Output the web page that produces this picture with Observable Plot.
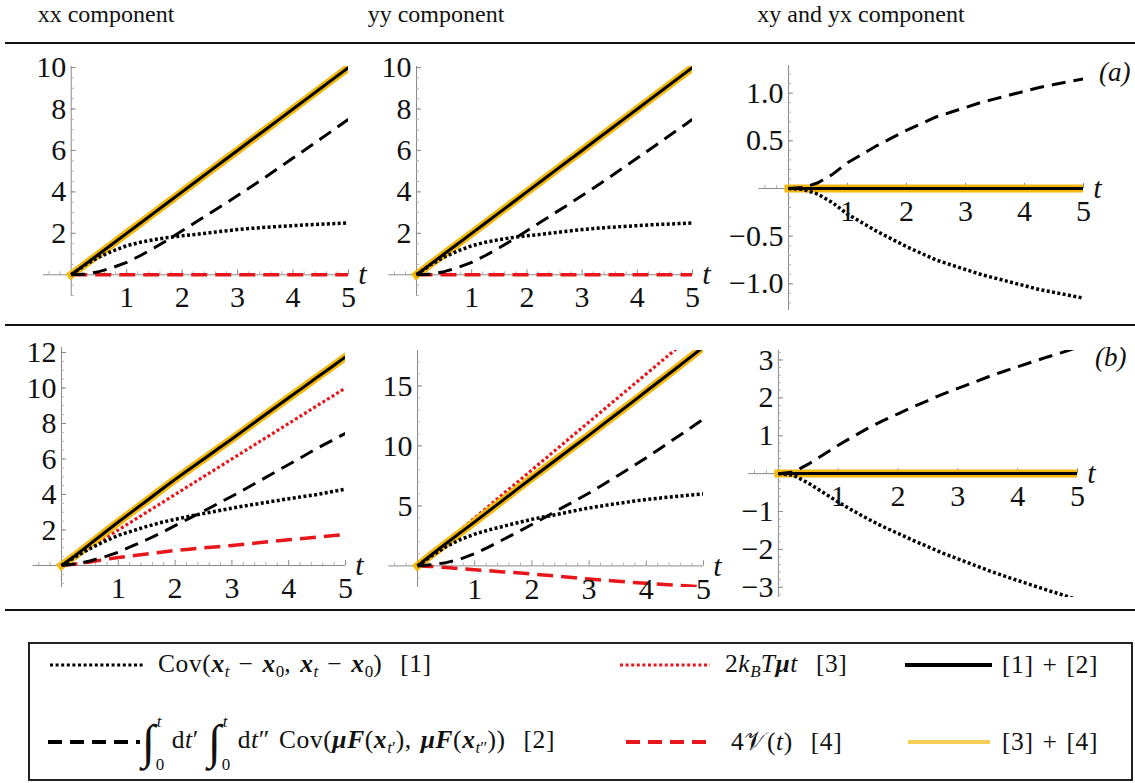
<!DOCTYPE html>
<html><head><meta charset="utf-8">
<script src="https://cdn.jsdelivr.net/npm/d3@7"></script>
<script src="https://cdn.jsdelivr.net/npm/@observablehq/plot@0.6"></script>
<style>
body{margin:0;background:#fff;}
#fig{position:relative;width:1135px;height:783px;overflow:hidden;font-family:"Liberation Serif","Times New Roman",serif;color:#111;}
.hdr{position:absolute;top:1px;font-size:24px;transform:translateX(-50%);white-space:nowrap;}
.rule{position:absolute;left:5px;width:1130px;height:2px;background:#111;}
.panel{position:absolute;}
.tag{position:absolute;font-style:italic;font-size:27px;transform:translateY(-50%);}
#legend{position:absolute;left:28px;top:642px;width:1101px;height:135px;border:2px solid #222;}
.lt{position:absolute;font-size:25.5px;letter-spacing:0.6px;word-spacing:2px;white-space:nowrap;transform:translateY(-50%);line-height:1;}
.lt sub{font-size:17px;vertical-align:-5px;letter-spacing:0;}
svg.sample{position:absolute;overflow:visible;}
.isg{display:inline-block;font-size:48px;line-height:1;vertical-align:middle;font-style:italic;}
.lim{display:inline-block;position:relative;width:12px;height:46px;vertical-align:middle;margin-right:4px;}
.lim .up{position:absolute;font-size:17px;left:1px;top:-6px;font-style:italic;}
.lim .lo{position:absolute;font-size:17px;left:0px;bottom:-8px;}
</style></head><body><div id="fig"></div>
<script>
// ---------- data ----------
const t = [0,0.25,0.5,0.75,1,1.25,1.5,1.75,2,2.25,2.5,2.75,3,3.25,3.5,3.75,4,4.25,4.5,4.75,5];

// row (a), xx component
const aXX_cov   = [0,0.48,0.85,1.15,1.4,1.57,1.7,1.8,1.88,1.95,2.03,2.11,2.18,2.24,2.29,2.33,2.37,2.41,2.44,2.47,2.5];
const aXX_force = [0,0.02,0.15,0.35,0.6,0.93,1.3,1.7,2.12,2.55,2.97,3.39,3.82,4.26,4.71,5.17,5.63,6.09,6.56,7.03,7.5];
const aXX_sum12 = [0,0.5,1,1.5,2,2.5,3,3.5,4,4.5,5,5.5,6,6.5,7,7.5,8,8.5,9,9.5,10];
const aXX_kT    = [0,0.5,1,1.5,2,2.5,3,3.5,4,4.5,5,5.5,6,6.5,7,7.5,8,8.5,9,9.5,10];
const aXX_V     = [0,0,0,0,0,0,0,0,0,0,0,0,0,0,0,0,0,0,0,0,0];
const aXX_sum34 = [0,0.5,1,1.5,2,2.5,3,3.5,4,4.5,5,5.5,6,6.5,7,7.5,8,8.5,9,9.5,10];

// row (a), yy component
const aYY_cov   = [0,0.48,0.85,1.15,1.4,1.57,1.7,1.8,1.88,1.95,2.03,2.11,2.18,2.24,2.29,2.33,2.37,2.41,2.44,2.47,2.5];
const aYY_force = [0,0.02,0.15,0.35,0.6,0.93,1.3,1.7,2.12,2.55,2.97,3.39,3.82,4.26,4.71,5.17,5.63,6.09,6.56,7.03,7.5];
const aYY_sum12 = [0,0.5,1,1.5,2,2.5,3,3.5,4,4.5,5,5.5,6,6.5,7,7.5,8,8.5,9,9.5,10];
const aYY_kT    = [0,0.5,1,1.5,2,2.5,3,3.5,4,4.5,5,5.5,6,6.5,7,7.5,8,8.5,9,9.5,10];
const aYY_V     = [0,0,0,0,0,0,0,0,0,0,0,0,0,0,0,0,0,0,0,0,0];
const aYY_sum34 = [0,0.5,1,1.5,2,2.5,3,3.5,4,4.5,5,5.5,6,6.5,7,7.5,8,8.5,9,9.5,10];

// row (a), xy and yx component
const aXY_cov   = [0,-0.01,-0.06,-0.15,-0.27,-0.36,-0.45,-0.53,-0.61,-0.68,-0.75,-0.8,-0.85,-0.9,-0.94,-0.98,-1.02,-1.06,-1.09,-1.12,-1.15];
const aXY_force = [0,0.01,0.06,0.15,0.27,0.36,0.45,0.53,0.61,0.68,0.75,0.8,0.85,0.9,0.94,0.98,1.02,1.06,1.09,1.12,1.15];
const aXY_sum12 = [0,0,0,0,0,0,0,0,0,0,0,0,0,0,0,0,0,0,0,0,0];
const aXY_kT    = [0,0,0,0,0,0,0,0,0,0,0,0,0,0,0,0,0,0,0,0,0];
const aXY_V     = [0,0,0,0,0,0,0,0,0,0,0,0,0,0,0,0,0,0,0,0,0];
const aXY_sum34 = [0,0,0,0,0,0,0,0,0,0,0,0,0,0,0,0,0,0,0,0,0];

// row (b), xx component
const bXX_cov   = [0,0.5,0.95,1.35,1.7,1.95,2.2,2.42,2.6,2.77,2.93,3.08,3.23,3.37,3.5,3.63,3.76,3.88,4.0,4.15,4.3];
const bXX_force = [0,0.08,0.25,0.48,0.75,1.1,1.45,1.83,2.25,2.65,3.06,3.48,3.9,4.34,4.79,5.24,5.69,6.14,6.6,7.02,7.45];
const bXX_sum12 = [0,0.58,1.2,1.83,2.45,3.05,3.65,4.25,4.85,5.42,5.99,6.56,7.13,7.71,8.29,8.87,9.45,10.02,10.6,11.17,11.75];
const bXX_kT    = [0,0.5,1,1.5,2,2.5,3,3.5,4,4.5,5,5.5,6,6.5,7,7.5,8,8.5,9,9.5,10];
const bXX_V     = [0,0.08,0.2,0.33,0.45,0.55,0.65,0.75,0.85,0.92,0.99,1.06,1.13,1.21,1.29,1.37,1.45,1.52,1.6,1.67,1.75];
const bXX_sum34 = [0,0.58,1.2,1.83,2.45,3.05,3.65,4.25,4.85,5.42,5.99,6.56,7.13,7.71,8.29,8.87,9.45,10.02,10.6,11.17,11.75];

// row (b), yy component
const bYY_cov   = [0,0.85,1.6,2.2,2.65,3.0,3.3,3.6,3.88,4.12,4.35,4.6,4.83,5.02,5.2,5.38,5.53,5.66,5.78,5.9,6.0];
const bYY_force = [0,0.1,0.27,0.57,1.02,1.59,2.2,2.82,3.45,4.1,4.77,5.41,6.07,6.79,7.52,8.25,9.02,9.81,10.61,11.42,12.25];
const bYY_sum12 = [0,0.95,1.87,2.77,3.67,4.59,5.5,6.42,7.33,8.22,9.12,10.01,10.9,11.81,12.72,13.63,14.55,15.47,16.39,17.32,18.25];
const bYY_kT    = [0,1,2,3,4,5,6,7,8,9,10,11,12,13,14,15,16,17,18,19,20];
const bYY_V     = [0,-0.05,-0.13,-0.23,-0.33,-0.41,-0.5,-0.58,-0.67,-0.78,-0.88,-0.99,-1.1,-1.19,-1.28,-1.37,-1.45,-1.53,-1.61,-1.68,-1.75];
const bYY_sum34 = [0,0.95,1.87,2.77,3.67,4.59,5.5,6.42,7.33,8.22,9.12,10.01,10.9,11.81,12.72,13.63,14.55,15.47,16.39,17.32,18.25];

// row (b), xy and yx component
const bXY_cov   = [0,-0.04,-0.25,-0.5,-0.75,-0.98,-1.2,-1.4,-1.58,-1.76,-1.93,-2.1,-2.25,-2.4,-2.55,-2.69,-2.82,-2.95,-3.08,-3.2,-3.33];
const bXY_force = [0,0.04,0.25,0.5,0.75,0.98,1.2,1.4,1.58,1.76,1.93,2.1,2.25,2.4,2.55,2.69,2.82,2.95,3.08,3.2,3.33];
const bXY_sum12 = [0,0,0,0,0,0,0,0,0,0,0,0,0,0,0,0,0,0,0,0,0];
const bXY_kT    = [0,0,0,0,0,0,0,0,0,0,0,0,0,0,0,0,0,0,0,0,0];
const bXY_V     = [0,0,0,0,0,0,0,0,0,0,0,0,0,0,0,0,0,0,0,0,0];
const bXY_sum34 = [0,0,0,0,0,0,0,0,0,0,0,0,0,0,0,0,0,0,0,0,0];

// ticks
const xTicks = [1,2,3,4,5];
const xTickLabels = ["1","2","3","4","5"];
const yTicksA = [2,4,6,8,10];           const yLabelsA = ["2","4","6","8","10"];
const yTicksAXY = [-1,-0.5,0.5,1];      const yLabelsAXY = ["\u22121.0","\u22120.5","0.5","1.0"];
const yTicksBXX = [2,4,6,8,10,12];      const yLabelsBXX = ["2","4","6","8","10","12"];
const yTicksBYY = [5,10,15];            const yLabelsBYY = ["5","10","15"];
const yTicksBXY = [-3,-2,-1,1,2,3];     const yLabelsBXY = ["\u22123","\u22122","\u22121","1","2","3"];

const headers = ["xx component","yy component","xy and yx component"];

// ---------- styles ----------
const RED = "#E8161B", YEL = "#F4B80C";
const FONT = '"Liberation Serif", "Times New Roman", serif';
const TFS = 30;

function panel(p){
  const [bl,bt,W,H] = p.box;
  const [fx0,fx1,fy0,fy1] = p.frame;
  const rows = arr => t.map((tt,i)=>({t:tt, v:arr[i]}));
  const ln = (arr, st) => Plot.line(rows(arr), {x:"t", y:"v", clip:true, strokeLinejoin:"round", strokeLinecap:"butt", ...st});
  const xMinor = d3.range(-0.4, 5.001, 0.2).filter(v => Math.abs(v - Math.round(v)) > 0.01);
  const yMinor = d3.range(Math.ceil(p.ydom[0]/p.yMinorStep)*p.yMinorStep, p.ydom[1], p.yMinorStep)
                   .filter(v => Math.abs(v) > 1e-6);
  const svg = Plot.plot({
    width: W, height: H,
    marginLeft: fx0-bl, marginRight: bl+W-fx1, marginTop: fy0-bt, marginBottom: bt+H-fy1,
    x: {domain:[-0.5,5], axis:null},
    y: {domain:p.ydom, axis:null},
    style: {background:"transparent", overflow:"visible", fontFamily:FONT, color:"#111"},
    marks: [
      Plot.ruleY([0], {stroke:"#8a8a8a", strokeWidth:1}),
      Plot.ruleX([0], {stroke:"#8a8a8a", strokeWidth:1}),
      Plot.ruleX(xMinor, {x:d=>d, y1:0, y2:0, insetTop:-3, stroke:"#b0b0b0"}),
      Plot.ruleX(xTicks, {x:d=>d, y1:0, y2:0, insetTop:-5, stroke:"#8a8a8a"}),
      Plot.ruleY(yMinor, {y:d=>d, x1:0, x2:0, insetRight:-3, stroke:"#b0b0b0"}),
      Plot.ruleY(p.yTicks, {y:d=>d, x1:0, x2:0, insetRight:-5, stroke:"#8a8a8a"}),
      ln(p.s.kT,    {stroke:RED, strokeWidth:3.2, strokeDasharray:"3,2.4"}),
      ln(p.s.V,     {stroke:RED, strokeWidth:3.5, strokeDasharray:"16,8"}),
      ln(p.s.sum34, {stroke:YEL, strokeWidth:8, strokeLinecap:"square"}),
      ln(p.s.sum12, {stroke:"#000", strokeWidth:3}),
      ln(p.s.force, {stroke:"#000", strokeWidth:3, strokeDasharray:"14,8"}),
      ln(p.s.cov,   {stroke:"#000", strokeWidth:3.5, strokeDasharray:"3,2.4"}),
      Plot.text(xTicks, {x:d=>d, y:0, text:xTickLabels, dy:23, fontSize:TFS, fontFamily:FONT, fill:"#111"}),
      Plot.text(p.yTicks, {x:0, y:d=>d, text:p.yLabels, textAnchor:"end", dx:-5, fontSize:TFS, fontFamily:FONT, fill:"#111"}),
      Plot.text(["t"], {x:5, y:0, text:d=>d, dx:14, dy:0, fontSize:30, fontFamily:FONT, fontStyle:"italic", fill:"#111"})
    ]
  });
  const div = document.createElement("div");
  div.className = "panel";
  div.style.left = bl+"px"; div.style.top = bt+"px";
  div.style.width = W+"px"; div.style.height = H+"px";
  div.appendChild(svg);
  return div;
}

const fig = document.getElementById("fig");

const panels = [
  {box:[0,45,375,278],   frame:[43,348,66,295],    ydom:[-1.0,10.05], yTicks:yTicksA, yLabels:yLabelsA, yMinorStep:0.5,
   s:{cov:aXX_cov, force:aXX_force, sum12:aXX_sum12, kT:aXX_kT, V:aXX_V, sum34:aXX_sum34}},
  {box:[375,45,360,278], frame:[388.4,692,66,295], ydom:[-1.0,10.05], yTicks:yTicksA, yLabels:yLabelsA, yMinorStep:0.5,
   s:{cov:aYY_cov, force:aYY_force, sum12:aYY_sum12, kT:aYY_kT, V:aYY_V, sum34:aYY_sum34}},
  {box:[735,45,400,278], frame:[758.5,1083,65,310], ydom:[-1.28,1.29], yTicks:yTicksAXY, yLabels:yLabelsAXY, yMinorStep:0.1,
   s:{cov:aXY_cov, force:aXY_force, sum12:aXY_sum12, kT:aXY_kT, V:aXY_V, sum34:aXY_sum34}},
  {box:[0,328,375,280],  frame:[32.6,345,347,587], ydom:[-1.24,12.28], yTicks:yTicksBXX, yLabels:yLabelsBXX, yMinorStep:0.5,
   s:{cov:bXX_cov, force:bXX_force, sum12:bXX_sum12, kT:bXX_kT, V:bXX_V, sum34:bXX_sum34}},
  {box:[375,328,360,280],frame:[388.4,703,350,587],ydom:[-1.8,17.95], yTicks:yTicksBYY, yLabels:yLabelsBYY, yMinorStep:1,
   s:{cov:bYY_cov, force:bYY_force, sum12:bYY_sum12, kT:bYY_kT, V:bYY_V, sum34:bYY_sum34}},
  {box:[735,328,400,280],frame:[748,1077,350,597], ydom:[-3.27,3.25], yTicks:yTicksBXY, yLabels:yLabelsBXY, yMinorStep:0.2,
   s:{cov:bXY_cov, force:bXY_force, sum12:bXY_sum12, kT:bXY_kT, V:bXY_V, sum34:bXY_sum34}}
];

// headers and rules
const hx = [106, 436, 861];
headers.forEach((h,i)=>{
  const d = document.createElement("div"); d.className="hdr"; d.textContent=h; d.style.left=hx[i]+"px"; fig.appendChild(d);
});
[42,324,609].forEach(y=>{const r=document.createElement("div"); r.className="rule"; r.style.top=y+"px"; fig.appendChild(r);});

panels.forEach(p => fig.appendChild(panel(p)));

// tags
[["(a)",1099,72],["(b)",1095,357]].forEach(([s,x,y])=>{
  const d=document.createElement("div"); d.className="tag"; d.textContent=s; d.style.left=x+"px"; d.style.top=y+"px"; fig.appendChild(d);
});

// legend
const lg = document.createElement("div"); lg.id="legend"; fig.appendChild(lg);
function sample(x1,x2,y,stroke,w,dash){
  const s = document.createElementNS("http://www.w3.org/2000/svg","svg");
  s.setAttribute("class","sample");
  s.setAttribute("width", x2-x1); s.setAttribute("height", 10);
  s.style.left = x1+"px"; s.style.top = (y-5)+"px";
  const l = document.createElementNS("http://www.w3.org/2000/svg","line");
  l.setAttribute("x1",0); l.setAttribute("x2",x2-x1); l.setAttribute("y1",5); l.setAttribute("y2",5);
  l.setAttribute("stroke",stroke); l.setAttribute("stroke-width",w);
  if (dash) l.setAttribute("stroke-dasharray",dash);
  s.appendChild(l); fig.appendChild(s);
}
function ltext(x,y,html){
  const d=document.createElement("div"); d.className="lt"; d.innerHTML=html; d.style.left=x+"px"; d.style.top=y+"px"; fig.appendChild(d);
}
const bx = '<b><i>x</i></b>';
const r1 = 665, r2 = 742;
sample(50,145,r1,"#000",3,"3,2.6");
ltext(158,r1,`Cov(${bx}<sub><i>t</i></sub> &minus; ${bx}<sub>0</sub>, ${bx}<sub><i>t</i></sub> &minus; ${bx}<sub>0</sub>)&nbsp;&nbsp;[1]`);
sample(620,710,r1,RED,3,"3,2.6");
ltext(725,r1,`2<i>k</i><sub><i>B</i></sub><i>T</i><b><i>μ</i></b><i>t</i>&nbsp;&nbsp;[3]`);
sample(905,992,r1,"#000",4,null);
ltext(1002,r1,`[1] + [2]`);
sample(48,140,r2,"#000",4,"14,8");
const integ = `<span class="isg">∫</span><span class="lim"><span class="up">t</span><span class="lo">0</span></span>`;
ltext(142,r2,`${integ}d<i>t</i>′ ${integ}d<i>t</i>″ Cov(<b><i>μF</i></b>(${bx}<sub><i>t</i>′</sub>), <b><i>μF</i></b>(${bx}<sub><i>t</i>″</sub>))&nbsp;&nbsp;[2]`);
sample(626,711,r2,RED,4,"14,8");
ltext(731,r2,`4𝒱(<i>t</i>)&nbsp;&nbsp;[4]`);
sample(908,990,r2,"#F6CD55",4,null);
ltext(1002,r2,`[3] + [4]`);
</script></body></html>
